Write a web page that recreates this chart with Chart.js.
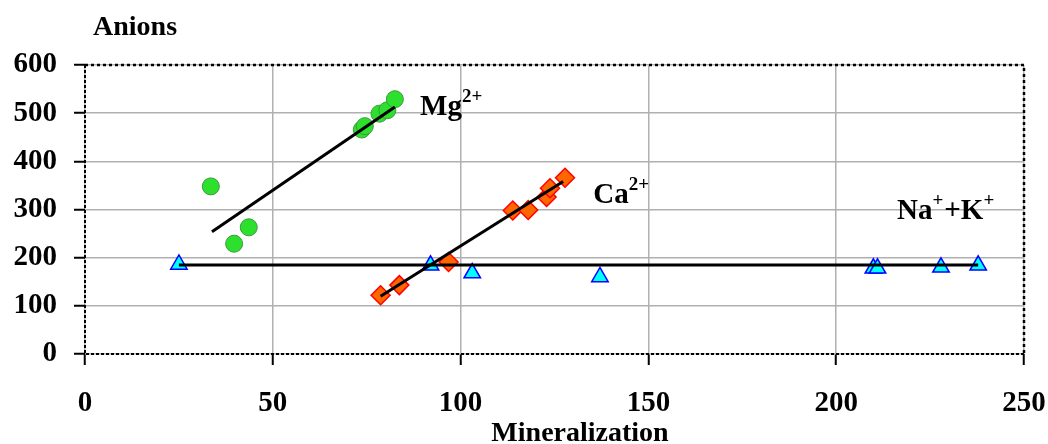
<!DOCTYPE html>
<html lang="en">
<head>
<meta charset="UTF-8">
<script src="https://cdn.jsdelivr.net/npm/chart.js"></script>
<title>Anions vs Mineralization</title>
<style>
    html, body { margin: 0; padding: 0; background: #fff; }
</style>
</head>
<body>
<canvas id="grafico" width="1048" height="444"></canvas>
<script>
    // eixos
    var xTicks = [0, 50, 100, 150, 200, 250];
    var yTicks = [0, 100, 200, 300, 400, 500, 600];

    // Mg2+
    var mgX = [33.5, 39.7, 43.6, 73.7, 74.5, 78.4, 80.5, 82.5];
    var mgY = [348, 229, 263, 466, 473, 499, 506, 529];
    var mgLinhaX = [33.8, 82.5];
    var mgLinhaY = [254, 513];

    // Ca2+
    var caX = [78.7, 83.7, 96.8, 113.9, 118.0, 122.9, 123.8, 127.8];
    var caY = [122, 143, 191, 298, 299, 326, 344, 366];
    var caLinhaX = [78.7, 127.3];
    var caLinhaY = [120, 358];

    // Na+ + K+
    var naX = [25.0, 92.0, 103.1, 137.1, 209.9, 211.0, 227.9, 237.8];
    var naY = [186, 184, 168, 160, 178, 178, 180, 184];
    var naLinhaX = [25.0, 237.8];
    var naLinhaY = [185, 185];

    function pontos(xs, ys) {
        var arr = [];
        for (var i = 0; i < xs.length; i++) {
            arr.push({ x: xs[i], y: ys[i] });
        }
        return arr;
    }

    var fonte = '"Liberation Serif", "Times New Roman", serif';

    function linha(xs, ys) {
        return {
            data: pontos(xs, ys),
            showLine: true,
            borderColor: '#000',
            borderWidth: 3,
            pointRadius: 0,
            fill: false
        };
    }

    // escreve texto com sobrescritos
    function escreverIon(ctx, partes, x, y) {
        var cx = x;
        for (var i = 0; i < partes.length; i++) {
            var sup = partes[i][1];
            ctx.font = 'bold ' + (sup ? 19 : 29) + 'px ' + fonte;
            ctx.fillText(partes[i][0], cx, sup ? y - 13 : y);
            cx += ctx.measureText(partes[i][0]).width + (sup ? 1 : 0);
        }
    }

    const extras = {
        id: 'extras',
        beforeDatasetsDraw(chart) {
            const ctx = chart.ctx;
            const a = chart.chartArea;
            ctx.save();
            ctx.strokeStyle = '#000';
            ctx.lineWidth = 2.5;
            ctx.setLineDash([3, 3]);
            ctx.beginPath();
            ctx.moveTo(a.left, a.top);
            ctx.lineTo(a.right, a.top);
            ctx.lineTo(a.right, a.bottom);
            ctx.stroke();
            ctx.lineWidth = 2;
            ctx.setLineDash([3, 2]);
            ctx.beginPath();
            ctx.moveTo(a.right, a.bottom);
            ctx.lineTo(a.left, a.bottom);
            ctx.lineTo(a.left, a.top);
            ctx.stroke();
            ctx.restore();
        },
        afterDraw(chart) {
            const ctx = chart.ctx;
            const xs = chart.scales.x;
            const ys = chart.scales.y;
            ctx.save();
            ctx.fillStyle = '#000';
            ctx.textBaseline = 'alphabetic';
            ctx.textAlign = 'left';
            ctx.font = 'bold 28px ' + fonte;
            ctx.fillText('Anions', 93, 35);
            ctx.textAlign = 'center';
            ctx.fillText('Mineralization', 580, 441);
            ctx.textAlign = 'left';
            escreverIon(ctx, [['Mg', false], ['2+', true]], xs.getPixelForValue(89.2), ys.getPixelForValue(497));
            escreverIon(ctx, [['Ca', false], ['2+', true]], xs.getPixelForValue(135.3), ys.getPixelForValue(314));
            escreverIon(ctx, [['Na', false], ['+', true], ['+K', false], ['+', true]], xs.getPixelForValue(216.2), ys.getPixelForValue(281));
            ctx.restore();
        }
    };

    const ctx = document.getElementById('grafico');

    var grafico = new Chart(ctx, {
        type: 'scatter',
        data: {
            datasets: [
                linha(mgLinhaX, mgLinhaY),
                linha(caLinhaX, caLinhaY),
                linha(naLinhaX, naLinhaY),
                {
                    label: 'Mg2+',
                    data: pontos(mgX, mgY),
                    pointStyle: 'circle',
                    pointRadius: 8.5,
                    backgroundColor: '#2ee02e',
                    borderColor: '#3a9a3a',
                    borderWidth: 1
                },
                {
                    label: 'Ca2+',
                    data: pontos(caX, caY),
                    pointStyle: 'rectRot',
                    pointRadius: 9.5,
                    backgroundColor: '#ff6600',
                    borderColor: '#ff0000',
                    borderWidth: 1.5
                },
                {
                    label: 'Na+K',
                    data: pontos(naX, naY),
                    pointStyle: 'triangle',
                    pointRadius: 9.5,
                    backgroundColor: '#00ffff',
                    borderColor: '#0000ff',
                    borderWidth: 1.5
                }
            ]
        },
        options: {
            responsive: false,
            animation: false,
            layout: { padding: { top: 65, right: 24, left: 0, bottom: 0 } },
            plugins: {
                legend: { display: false },
                tooltip: { enabled: false }
            },
            scales: {
                x: {
                    type: 'linear',
                    min: xTicks[0],
                    max: xTicks[xTicks.length - 1],
                    afterBuildTicks: function (s) { s.ticks = xTicks.map(function (v) { return { value: v }; }); },
                    afterFit: function (s) { s.height = 90; s.paddingRight = 0; s.paddingLeft = 0; },
                    grid: { color: '#b0b0b0', lineWidth: 1.5, tickColor: '#000', tickWidth: 2, tickLength: 11 },
                    border: { display: false },
                    ticks: {
                        color: '#000',
                        padding: 21,
                        maxRotation: 0,
                        font: { family: fonte, size: 29, weight: 'bold' }
                    }
                },
                y: {
                    type: 'linear',
                    min: yTicks[0],
                    max: yTicks[yTicks.length - 1],
                    afterBuildTicks: function (s) { s.ticks = yTicks.map(function (v) { return { value: v }; }); },
                    afterFit: function (s) { s.width = 85; },
                    grid: { color: '#b0b0b0', lineWidth: 1.5, tickColor: '#000', tickWidth: 2, tickLength: 11 },
                    border: { display: false },
                    ticks: {
                        color: '#000',
                        padding: 17,
                        font: { family: fonte, size: 29, weight: 'bold' }
                    }
                }
            }
        },
        plugins: [extras]
    });
</script>
</body>
</html>
